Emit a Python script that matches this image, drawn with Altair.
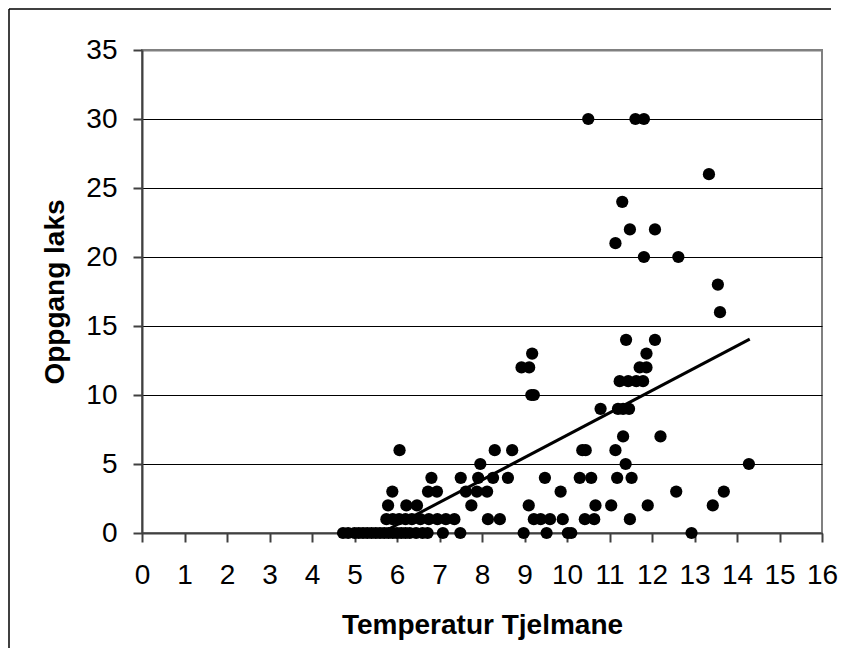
import altair as alt
import pandas as pd

# Scatter data (temperature, salmon count)
temp = [
    10.5, 11.61, 11.81,
    13.34,
    11.3,
    11.48, 12.07,
    11.14,
    11.81, 12.62,
    13.55,
    13.6,
    11.39, 12.07,
    9.18, 11.87,
    8.93, 9.11, 11.71, 11.87,
    11.24, 11.44, 11.63, 11.79,
    9.16, 9.22,
    10.79, 11.2, 11.32, 11.46,
    11.32, 12.2,
    6.06, 8.3, 8.71, 10.36, 10.44, 11.14,
    7.96, 11.38, 14.28,
    6.81, 7.5, 7.91, 8.26, 8.61, 9.48, 10.3, 10.57, 11.18, 11.52,
    5.89, 6.73, 6.94, 7.62, 7.88, 8.12, 9.85, 12.57, 13.69,
    5.79, 6.22, 6.47, 7.75, 9.1, 10.67, 11.04, 11.9, 13.43,
    5.75, 5.9, 6.05, 6.2, 6.35, 6.55, 6.75, 6.95, 7.15, 7.35, 8.14, 8.42,
    9.22, 9.38, 9.6, 9.9, 10.42, 10.64, 11.48,
    4.73, 4.85, 5.0, 5.1, 5.2, 5.3, 5.4, 5.5, 5.6, 5.7, 5.8, 5.9, 6.0, 6.1,
    6.2, 6.3, 6.45, 6.6, 6.72, 7.08, 7.49, 8.98, 9.52, 10.02, 10.1, 12.93,
]
laks = [
    30, 30, 30,
    26,
    24,
    22, 22,
    21,
    20, 20,
    18,
    16,
    14, 14,
    13, 13,
    12, 12, 12, 12,
    11, 11, 11, 11,
    10, 10,
    9, 9, 9, 9,
    7, 7,
    6, 6, 6, 6, 6, 6,
    5, 5, 5,
    4, 4, 4, 4, 4, 4, 4, 4, 4, 4,
    3, 3, 3, 3, 3, 3, 3, 3, 3,
    2, 2, 2, 2, 2, 2, 2, 2, 2,
    1, 1, 1, 1, 1, 1, 1, 1, 1, 1, 1, 1,
    1, 1, 1, 1, 1, 1, 1,
    0, 0, 0, 0, 0, 0, 0, 0, 0, 0, 0, 0, 0, 0,
    0, 0, 0, 0, 0, 0, 0, 0, 0, 0, 0, 0,
]

# Linear trendline end points
trend_x = [5.63, 14.3]
trend_y = [0.0, 14.05]

x_ticks = list(range(0, 17))
y_ticks = [0, 5, 10, 15, 20, 25, 30, 35]

df = pd.DataFrame({"temp": temp, "laks": laks})
trend = pd.DataFrame({"temp": trend_x, "laks": trend_y})
frame = pd.DataFrame({"k": [0]})

FONT = "Liberation Sans"

x_enc = alt.X(
    "temp:Q",
    scale=alt.Scale(domain=[0, 16], nice=False, zero=False),
    axis=alt.Axis(
        title="Temperatur Tjelmane",
        values=x_ticks,
        format="d",
        grid=False,
        labelFlush=False,
        labelOverlap=False,
        tickSize=9,
        labelPadding=19,
        titlePadding=22,
    ),
)
y_enc = alt.Y(
    "laks:Q",
    scale=alt.Scale(domain=[0, 35], nice=False),
    axis=alt.Axis(
        title="Oppgang laks",
        values=y_ticks,
        format="d",
        grid=True,
        gridColor=alt.condition("datum.value == 35", alt.value("#808080"), alt.value("#000000")),
        gridWidth=alt.condition("datum.value == 35", alt.value(2), alt.value(1)),
        labelFlush=False,
        labelOverlap=False,
        tickSize=9,
        labelPadding=16,
        titlePadding=16,
    ),
)

points = alt.Chart(df).mark_circle(size=150, color="#000000", opacity=1).encode(
    x=x_enc, y=y_enc
)

line = alt.Chart(trend).mark_line(color="#000000", strokeWidth=3).encode(
    x="temp:Q", y="laks:Q"
)

# Outer chart-area frame (left and top edges visible in reference)
frame_left = alt.Chart(frame).mark_rule(color="#000000", strokeWidth=1.5).encode(
    x=alt.value(-133), y=alt.value(-41), y2=alt.value(660)
)
frame_top = alt.Chart(frame).mark_rule(color="#000000", strokeWidth=1.5).encode(
    x=alt.value(-133), x2=alt.value(689), y=alt.value(-41)
)

chart = (
    alt.layer(points, line, frame_left, frame_top)
    .properties(
        width=680,
        height=483,
        autosize="none",
        padding={"left": 134, "top": 42, "right": 17, "bottom": 115},
        background="#ffffff",
    )
    .configure_view(stroke="#808080", strokeWidth=2)
    .configure_axis(
        labelFont=FONT,
        labelFontSize=28,
        labelColor="#000000",
        titleFont=FONT,
        titleFontSize=28,
        titleFontWeight="bold",
        titleColor="#000000",
        domainColor="#404040",
        domainWidth=2,
        tickColor="#404040",
        tickWidth=2,
    )
)

chart.save("out.html", embed_options={"renderer": "svg", "actions": False})
